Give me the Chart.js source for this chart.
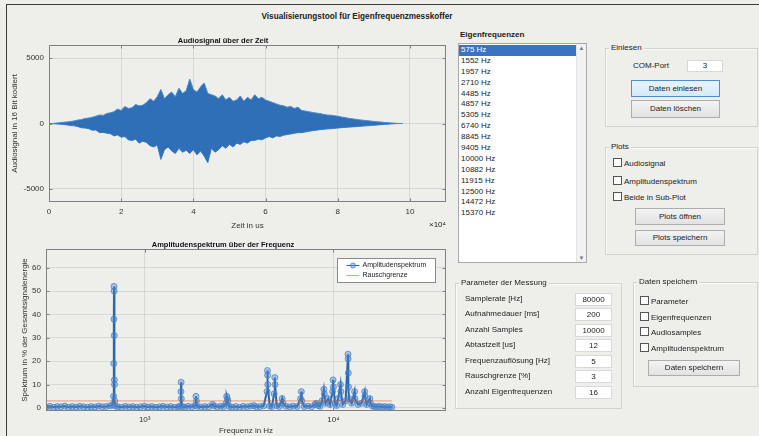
<!DOCTYPE html>
<html>
<head>
<meta charset="utf-8">
<script src="https://cdn.jsdelivr.net/npm/chart.js@4.4.0/dist/chart.umd.min.js"></script>
<style>
html, body { margin: 0; padding: 0; }
body { width: 759px; height: 436px; background: #eeeeea; position: relative; overflow: hidden;
  font-family: "Liberation Sans", Arial, sans-serif; font-size: 8px; color: #222; }
.abs { position: absolute; }
#frame { left: 6px; top: 4px; right: 0; bottom: 0; border-left: 1px solid #3a3a3a; border-top: 1px solid #3a3a3a; }
canvas { position: absolute; left: 0; }
.panel { position: absolute; border: 1px solid #d2d2cd; box-shadow: inset 1px 1px 0 #fafafa; }
.panel > .pt { position: absolute; left: 3px; top: -6px; background: #eeeeea; padding: 0 2px; line-height: 10px; }
.btn { position: absolute; border: 1px solid #adadad; background: linear-gradient(#f3f3f3, #e2e2e2);
  text-align: center; box-sizing: border-box; }
.btn.focus { border-color: #4a90d0; background: linear-gradient(#e8f4fc, #d4eaf8); }
.cb { position: absolute; line-height: 10px; white-space: nowrap; }
.cb i { display: inline-block; width: 7px; height: 7px; border: 1px solid #555; background: #fff;
  vertical-align: -1px; margin-right: 2px; }
.edit { position: absolute; background: #fff; border: 1px solid #d8d8d8; text-align: center; box-sizing: border-box; }
.lbl { position: absolute; line-height: 10px; white-space: nowrap; }
#list { left: 458px; top: 43px; width: 129px; height: 220px; background: #fff; border: 1px solid #a8a8a8; box-sizing: border-box; }
#list .it { height: 10.9px; line-height: 10.9px; padding-left: 2px; width: 117px; white-space: nowrap; }
#list .it.sel { background: #3b73c0; color: #fff; }
#list .sb { position: absolute; right: 0; top: 0; bottom: 0; width: 9px; background: #f2f2f2; border-left: 1px solid #e4e4e4;
  font-size: 6px; color: #777; text-align: center; }
#x10 { left: 420px; top: 220px; width: 26px; text-align: right; z-index: 2; }
</style>
</head>
<body>
<div class="abs" id="frame"></div>
<div class="abs" style="left:0;width:714px;top:12px;text-align:center;font-weight:bold;font-size:8.2px;">Visualisierungstool für Eigenfrequenzmesskoffer</div>

<canvas id="zeit" width="458" height="203" style="top:28px"></canvas>
<div class="abs" id="x10">×10⁴</div>
<canvas id="spektrum" width="458" height="200" style="top:236px"></canvas>

<div class="lbl" style="left:460px;top:30px;font-weight:bold;">Eigenfrequenzen</div>
<div class="abs" id="list"><div id="items" style="padding-top:1px"></div>
  <div class="sb"><div style="position:absolute;top:1px;width:9px">▲</div><div style="position:absolute;bottom:1px;width:9px">▼</div></div>
</div>

<div class="panel" style="left:605px;top:48px;width:151px;height:77px;"><span class="pt">Einlesen</span></div>
<div class="lbl" style="left:633px;top:61px;">COM-Port</div>
<div class="edit" style="left:687px;top:60px;width:36px;height:12px;line-height:10px;">3</div>
<div class="btn focus" style="left:631px;top:80px;width:89px;height:17px;line-height:15px;">Daten einlesen</div>
<div class="btn" style="left:631px;top:100px;width:89px;height:18px;line-height:16px;">Daten löschen</div>

<div class="panel" style="left:605px;top:147px;width:151px;height:106px;"><span class="pt">Plots</span></div>
<div class="cb" style="left:613px;top:158px;"><i></i>Audiosignal</div>
<div class="cb" style="left:613px;top:176px;"><i></i>Amplitudenspektrum</div>
<div class="cb" style="left:613px;top:192px;"><i></i>Beide in Sub-Plot</div>
<div class="btn" style="left:635px;top:208px;width:90px;height:17px;line-height:15px;">Plots öffnen</div>
<div class="btn" style="left:635px;top:230px;width:90px;height:16px;line-height:14px;">Plots speichern</div>

<div class="panel" style="left:455px;top:283px;width:165px;height:124px;"><span class="pt">Parameter der Messung</span></div>
<div id="params"></div>

<div class="panel" style="left:633px;top:282px;width:123px;height:103px;"><span class="pt">Daten speichern</span></div>
<div class="cb" style="left:640px;top:296px;"><i></i>Parameter</div>
<div class="cb" style="left:640px;top:312px;"><i></i>Eigenfrequenzen</div>
<div class="cb" style="left:640px;top:327px;"><i></i>Audiosamples</div>
<div class="cb" style="left:640px;top:343px;"><i></i>Amplitudenspektrum</div>
<div class="btn" style="left:648px;top:360px;width:92px;height:16px;line-height:14px;">Daten speichern</div>

<script>
// Audiosignal als Hüllkurve: Maximum und Minimum je Zeitfenster (Fensterbreite in 10^4 us)
var DT = 0.1;
var sigMax = [
  0, 0,
  30, 60, 90, 120, 150,  200, 260, 300, 380, 420,  480, 560, 650, 620, 760,
  820, 900, 1100, 1000, 1300,  1150, 1200, 1450, 1350, 1400,  1600, 1900, 1700, 2050, 2600,
  1900, 2200, 2400, 2050, 2700,  2300, 2500, 3400, 2600, 2400,  2800, 3100, 2300, 2200, 2100,
  1900, 2200, 1800, 2000, 1700,  1800, 2100, 1700, 2000, 1800,  2200, 1900, 2000, 1800, 1700,
  1600, 1500, 1400, 1350, 1250,  1300, 1150, 1250, 1000, 950,  900, 850, 800, 760, 700,
  650, 640, 600, 560, 500,  450, 400, 360, 320, 280,  250, 220, 190, 160, 130,
  110, 80, 60, 40, 20,
  0, 0
];
var sigMin = [
  0, 0,
  -40, -50, -80, -110, -160,  -180, -240, -330, -350, -400,  -520, -500, -700, -680, -740,
  -780, -950, -880, -1050, -1000,  -1250, -1300, -1200, -1500, -1350,  -1450, -1700, -1800, -1650, -2750,
  -2000, -1800, -2100, -2300, -1900,  -2200, -2050, -2300, -2000, -2400,  -2100, -2500, -3000, -1900, -2200,
  -2000, -1700, -1900, -1600, -1800,  -1500, -1600, -1400, -1500, -1300,  -1300, -1200, -1250, -1100, -1000,
  -1100, -950, -1000, -900, -850,  -800, -750, -700, -700, -650,  -600, -550, -520, -480, -450,
  -420, -400, -380, -350, -320,  -300, -280, -260, -240, -220,  -200, -180, -160, -140, -120,
  -90, -70, -50, -30, -10,
  0, 0
];
var zeitTicks = [0, 2, 4, 6, 8, 10];
var audioTicks = [-5000, 0, 5000];

// Amplitudenspektrum (Hz / % der Gesamtsignalenergie)
var specHz = [
  300, 314, 329, 344, 360, 377, 395, 413, 433, 453, 474, 497, 520, 545, 570, 597, 625, 655,
  675, 684, 686, 687, 688, 689, 690, 691, 692, 694, 700,
  720, 754, 790, 827, 866, 907, 950, 995, 1042, 1091, 1142, 1196, 1252, 1311, 1373, 1438, 1505,
  1540, 1556, 1560, 1564, 1580,
  1630, 1700, 1780, 1850, 1870, 1880, 1900,
  1990, 2080, 2180, 2290, 2320, 2420, 2530, 2620, 2700, 2720,
  2740, 2760, 2800, 2900, 3040, 3180, 3330, 3490, 3650, 3790,
  3900, 4080, 4270, 4450, 4470, 4480, 4490, 4600, 4720, 4850,
  4890, 4910, 5000, 5170, 5350, 5400, 5600, 5860, 6130, 6420,
  6700, 6760, 6800, 7000, 7330, 7670, 8000, 8110, 8300, 8500,
  8700, 8900, 8950, 9100, 9400, 9600, 9900, 9960, 10000, 10200,
  10400, 10600, 10900, 10950, 11200, 11600, 11950, 11970, 12000, 12020,
  12100, 12500, 12940, 13000, 13500, 14100, 14650, 14700, 15000, 15600,
  15700, 16100, 16500, 17000, 17500, 18100, 18700, 19300, 19900, 20400
];
var specPct = [
  0.4, 0.7, 0.3, 0.6, 0.5, 0.8, 0.3, 0.6, 0.4, 0.7, 0.5, 0.3, 0.6, 0.4, 0.8, 0.5, 0.6, 0.9,
  1.2, 5, 19, 38, 52, 50, 31, 12, 10, 3, 0.8,
  0.5, 0.3, 0.7, 0.4, 0.6, 0.3, 0.5, 0.8, 0.4, 0.6, 0.3, 0.5, 0.7, 0.4, 0.6, 0.3, 0.5,
  0.8, 7, 11, 4, 0.6,
  0.4, 0.7, 0.5, 1, 5, 3, 0.7,
  0.4, 0.6, 0.5, 1.5, 0.8, 0.5, 0.7, 0.6, 2, 5,
  4, 3, 0.7, 0.4, 0.6, 0.3, 0.7, 0.5, 0.8, 1,
  0.5, 0.6, 0.9, 7, 16, 14, 10, 0.8, 0.6, 6,
  13, 10, 1, 0.6, 4, 2, 0.7, 0.5, 0.8, 0.6,
  4, 7, 3, 0.6, 0.8, 0.5, 1.5, 2, 1, 0.7,
  3, 8, 6, 2, 4, 1.5, 7, 12, 9, 2,
  1, 4, 10, 7, 1.5, 3, 23, 21, 15, 9,
  4, 2, 7, 4, 1.5, 2, 7, 5, 1.5, 4,
  2, 0.8, 0.6, 0.5, 0.7, 0.4, 0.6, 0.3, 0.5, 0.3
];
var rauschHz = [300, 20400];
var rauschPct = [3, 3];
var freqTicks = [1000, 10000];
var pctTicks = [0, 10, 20, 30, 40, 50, 60];

// GUI-Inhalte
var eigenfrequenzen = [575, 1552, 1957, 2710, 4485, 4857, 5305, 6740, 8845, 9405, 10000, 10882, 11915, 12500, 14472, 15370];
var paramNamen = ['Samplerate [Hz]', 'Aufnahmedauer [ms]', 'Anzahl Samples', 'Abtastzeit [us]',
  'Frequenzauflösung [Hz]', 'Rauschgrenze [%]', 'Anzahl Eigenfrequenzen'];
var paramWerte = [80000, 200, 10000, 12, 5, 3, 16];
var paramZeilen = [299, 314, 330, 345, 361, 376, 392];

var html = '';
eigenfrequenzen.forEach(function(f, i) {
  html += '<div class="it' + (i === 0 ? ' sel' : '') + '">' + f + ' Hz</div>';
});
document.getElementById('items').innerHTML = html;

html = '';
paramNamen.forEach(function(n, i) {
  var y = paramZeilen[i];
  html += '<div class="lbl" style="left:465px;top:' + (y - 5) + 'px">' + n + '</div>';
  html += '<div class="edit" style="left:575px;top:' + (y - 6) + 'px;width:37px;height:13px;line-height:11px">' + paramWerte[i] + '</div>';
});
document.getElementById('params').innerHTML = html;

Chart.defaults.font.family = '"Liberation Sans", Arial, sans-serif';
Chart.defaults.font.size = 8;
Chart.defaults.color = '#333';

var GRID = 'rgba(0,0,0,0.09)';

// Rahmen um die Achsen wie in MATLAB (box on) mit Ticks nach innen
var boxPlugin = {
  id: 'box',
  afterDraw: function(chart) {
    var a = chart.chartArea, c = chart.ctx;
    c.save();
    c.strokeStyle = '#808080';
    c.lineWidth = 1;
    var l = Math.round(a.left) + 0.5, t = Math.round(a.top) + 0.5;
    var r = Math.round(a.right) - 0.5, b = Math.round(a.bottom) - 0.5;
    c.strokeRect(l, t, r - l, b - t);
    c.beginPath();
    var xs = chart.scales.x, ys = chart.scales.y;
    xs.ticks.forEach(function(tk) {
      var px = Math.round(xs.getPixelForValue(tk.value)) + 0.5;
      c.moveTo(px, b); c.lineTo(px, b - 3);
      c.moveTo(px, t); c.lineTo(px, t + 3);
    });
    ys.ticks.forEach(function(tk) {
      var py = Math.round(ys.getPixelForValue(tk.value)) + 0.5;
      c.moveTo(l, py); c.lineTo(l + 3, py);
      c.moveTo(r, py); c.lineTo(r - 3, py);
    });
    c.stroke();
    c.restore();
  }
};

// Legende im Achsenfeld oben rechts
var legendPlugin = {
  id: 'mlegend',
  afterDraw: function(chart) {
    var a = chart.chartArea, c = chart.ctx;
    var w = 98, h = 24, x0 = Math.round(a.right) - 109 + 0.5, y0 = Math.round(a.top) + 9 + 0.5;
    c.save();
    c.fillStyle = '#fff';
    c.fillRect(x0, y0, w, h);
    c.strokeStyle = '#8a8a8a';
    c.lineWidth = 1;
    c.strokeRect(x0, y0, w, h);
    c.font = '7px "Liberation Sans", Arial, sans-serif';
    c.textBaseline = 'middle';
    chart.data.datasets.forEach(function(ds, i) {
      var y = y0 + 7 + i * 10;
      c.strokeStyle = ds.borderColor;
      c.lineWidth = 1;
      c.beginPath(); c.moveTo(x0 + 9, y); c.lineTo(x0 + 22, y); c.stroke();
      if (ds.pointRadius > 0) {
        c.beginPath(); c.arc(x0 + 15.5, y, 2.5, 0, Math.PI * 2);
        c.fillStyle = ds.pointBackgroundColor; c.fill();
        c.strokeStyle = ds.pointBorderColor; c.stroke();
      }
      c.fillStyle = '#222';
      c.fillText(ds.label, x0 + 25, y);
    });
    c.restore();
  }
};

function zeitPunkte(werte) {
  return werte.map(function(v, i) { return { x: i * DT, y: v }; });
}

new Chart(document.getElementById('zeit').getContext('2d'), {
  type: 'line',
  data: {
    datasets: [{
      label: 'Audiosignal max',
      data: zeitPunkte(sigMax),
      borderColor: '#4a88cc',
      backgroundColor: '#2f6fb8',
      fill: '+1',
      borderWidth: 1,
      pointRadius: 0,
      tension: 0
    }, {
      label: 'Audiosignal min',
      data: zeitPunkte(sigMin),
      borderColor: '#4a88cc',
      borderWidth: 1,
      pointRadius: 0,
      tension: 0
    }]
  },
  options: {
    responsive: false,
    animation: false,
    layout: { padding: { left: 0, right: 12, top: 0, bottom: 0 } },
    plugins: {
      legend: { display: false },
      tooltip: { enabled: false },
      title: {
        display: true, text: 'Audiosignal über der Zeit', color: '#111',
        font: { size: 7.5, weight: 'bold', lineHeight: 1 },
        padding: { top: 9.5, bottom: 0 }
      }
    },
    scales: {
      x: {
        type: 'linear', min: 0, max: 11,
        afterFit: function(s) { s.height = 29; },
        afterBuildTicks: function(s) { s.ticks = zeitTicks.map(function(v) { return { value: v }; }); },
        grid: { color: GRID, drawTicks: false },
        border: { display: false },
        ticks: { padding: 5, maxRotation: 0, callback: function(v) { return String(v); } },
        title: { display: true, text: 'Zeit in us', padding: 0, font: { size: 8 } }
      },
      y: {
        min: -6000, max: 6000,
        afterFit: function(s) { s.width = 49; },
        afterBuildTicks: function(s) { s.ticks = audioTicks.map(function(v) { return { value: v }; }); },
        grid: { color: GRID, drawTicks: false },
        border: { display: false },
        ticks: { padding: 5, callback: function(v) { return String(v); } },
        title: { display: true, text: 'Audiosignal in 16 Bit kodiert', padding: { top: 10, bottom: 0 }, font: { size: 8 } }
      }
    }
  },
  plugins: [boxPlugin]
});

new Chart(document.getElementById('spektrum').getContext('2d'), {
  type: 'line',
  data: {
    datasets: [{
      label: 'Amplitudenspektrum',
      data: specHz.map(function(f, i) { return { x: f, y: specPct[i] }; }),
      borderColor: '#2a66ad',
      borderWidth: 2,
      pointRadius: 3,
      pointBorderWidth: 1,
      pointBackgroundColor: 'rgba(70,130,200,0.4)',
      pointBorderColor: 'rgba(70,130,200,0.75)',
      tension: 0,
      order: 1
    }, {
      label: 'Rauschgrenze',
      data: rauschHz.map(function(f, i) { return { x: f, y: rauschPct[i] }; }),
      borderColor: 'rgba(217,83,25,0.55)',
      borderWidth: 1,
      pointRadius: 0,
      order: 0
    }]
  },
  options: {
    responsive: false,
    animation: false,
    layout: { padding: { left: 0, right: 12, top: 0, bottom: 0 } },
    plugins: {
      legend: { display: false },
      tooltip: { enabled: false },
      title: {
        display: true, text: 'Amplitudenspektrum über der Frequenz', color: '#111',
        font: { size: 7.5, weight: 'bold', lineHeight: 1 },
        padding: { top: 5.5, bottom: 0 }
      }
    },
    scales: {
      x: {
        type: 'logarithmic', min: 300, max: 39500,
        afterFit: function(s) { s.height = 25; },
        afterBuildTicks: function(s) { s.ticks = freqTicks.map(function(v) { return { value: v }; }); },
        grid: { color: GRID, drawTicks: false },
        border: { display: false },
        ticks: {
          padding: 4, maxRotation: 0, autoSkip: false,
          callback: function(v) { return v === 1000 ? '10³' : (v === 10000 ? '10⁴' : ''); }
        },
        title: { display: true, text: 'Frequenz in Hz', padding: 0, font: { size: 8 } }
      },
      y: {
        min: -1.3, max: 68,
        afterFit: function(s) { s.width = 46; },
        afterBuildTicks: function(s) { s.ticks = pctTicks.map(function(v) { return { value: v }; }); },
        grid: { color: GRID, drawTicks: false },
        border: { display: false },
        ticks: { padding: 5 },
        title: { display: true, text: 'Spektrum in % der Gesamtsignalenergie', padding: { top: 20, bottom: 0 }, font: { size: 8 } }
      }
    }
  },
  plugins: [boxPlugin, legendPlugin]
});
</script>
</body>
</html>
